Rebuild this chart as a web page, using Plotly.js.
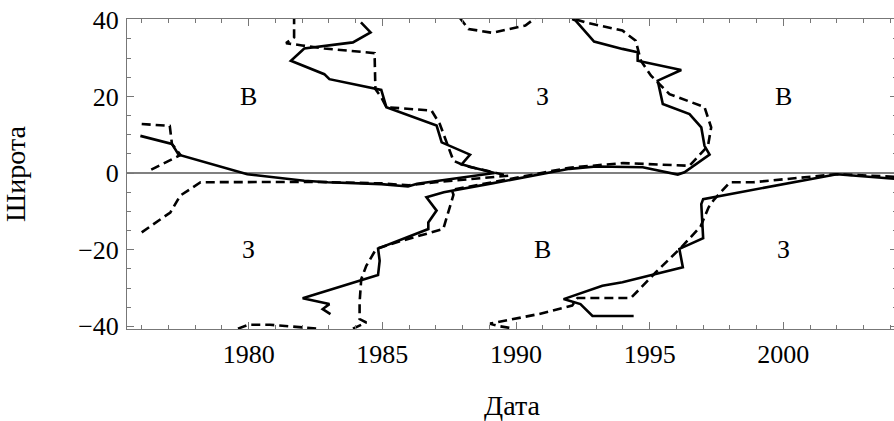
<!DOCTYPE html>
<html>
<head>
<meta charset="utf-8">
<script src="https://cdn.plot.ly/plotly-3.0.1.min.js"></script>
<style>
  html, body { margin: 0; padding: 0; background: #fff; overflow: hidden; }
  #chart { width: 897px; height: 421px; }
</style>
</head>
<body>
<div id="chart"></div>
<script>
// Neutral-line positions: date (years) and latitude (degrees).
// Solid lines
const solidA_date = [1975.95, 1977.13, 1977.38, 1979.95, 1982.08, 1982.96, 1984.96, 1985.96, 1986.3, 1989.2, 1988.35, 1987.97, 1988.28, 1987.22, 1987.03, 1985.15, 1984.96, 1984.59, 1983.02, 1982.83, 1981.58, 1982.08, 1983.9, 1984.56, 1984.2];
const solidA_lat  = [9.7, 7.6, 4.8, -0.3, -2.0, -2.4, -2.9, -3.5, -2.8, 0.0, 1.5, 2.3, 4.8, 8.0, 12.4, 17.2, 21.7, 22.2, 24.5, 25.8, 29.3, 32.5, 34.1, 36.7, 39.3];

const solidB_date = [1983.06, 1982.77, 1983.02, 1982.02, 1984.84, 1984.9, 1984.84, 1986.72, 1986.72, 1987.03, 1986.65, 1987.3, 1989.1, 1991.0, 1992.0, 1993.0, 1994.74, 1996.05, 1996.3, 1997.24, 1997.05, 1996.93, 1996.49, 1995.49, 1995.3, 1996.18, 1994.55, 1994.55, 1993.98, 1992.92, 1992.23, 1992.1];
const solidB_lat  = [-36.8, -35.5, -34.2, -32.7, -26.6, -22.9, -19.7, -14.6, -12.9, -9.8, -6.3, -5.0, -2.7, -0.3, 1.1, 1.7, 1.5, -0.4, 0.2, 4.8, 7.1, 11.9, 15.4, 18.0, 24.1, 26.9, 29.3, 31.5, 32.4, 34.3, 39.8, 40.2];

const solidC_date = [1994.4, 1992.86, 1992.41, 1991.78, 1993.23, 1993.98, 1996.24, 1996.11, 1997.0, 1996.93, 1997.0, 2002.0, 2004.3];
const solidC_lat  = [-37.3, -37.3, -34.2, -32.9, -29.4, -28.5, -24.6, -19.8, -17.0, -8.1, -6.8, -0.3, -1.6];

// Dashed lines
const dashA_date = [1976.0, 1977.05, 1977.13, 1977.45, 1976.25];
const dashA_lat  = [12.8, 12.3, 7.6, 4.7, 0.5];

const dashB_date = [1976.0, 1977.07, 1977.44, 1978.2, 1982.4, 1984.96, 1986.0, 1987.0, 1989.72, 1988.09, 1987.66, 1987.34, 1987.15, 1986.84, 1985.15, 1984.96, 1984.74, 1984.71, 1982.83, 1982.0, 1981.4, 1981.7, 1981.7];
const dashB_lat  = [-15.5, -10.3, -5.9, -2.4, -2.3, -2.7, -3.2, -2.4, -0.7, 1.9, 3.2, 9.3, 12.8, 16.3, 17.2, 19.8, 21.9, 31.3, 32.5, 33.3, 33.9, 35.4, 40.2];

const dashC_date = [1987.9, 1988.22, 1989.1, 1990.35, 1990.73];
const dashC_lat  = [40.5, 37.6, 36.6, 38.5, 40.5];

const dashD_date = [1979.6, 1980.0, 1980.8, 1982.0, 1982.6];
const dashD_lat  = [-40.6, -39.6, -39.6, -40.2, -40.6];

const dashE_date = [1983.9, 1984.4, 1984.15, 1984.15, 1984.21, 1984.4, 1984.77, 1985.71, 1987.28, 1987.66, 1987.6, 1989.1, 1991.0, 1992.0, 1994.0, 1996.0, 1996.49, 1997.18, 1997.3, 1997.05, 1995.74, 1995.05, 1994.67, 1994.48, 1993.98, 1992.6, 1992.1];
const dashE_lat  = [-40.6, -39.0, -38.1, -33.8, -27.7, -24.2, -19.8, -17.7, -14.6, -5.7, -4.4, -2.4, 0.0, 1.4, 2.6, 2.0, 1.9, 7.1, 11.9, 17.2, 20.6, 25.4, 29.3, 34.5, 37.2, 39.3, 40.4];

const dashF_date = [1989.75, 1989.4, 1989.03, 1990.85, 1992.1, 1992.3, 1994.3, 1995.23, 1996.18, 1996.9, 1997.2, 1997.4, 1998.0, 1998.87, 2002.0, 2004.3];
const dashF_lat  = [-40.4, -40.0, -39.3, -36.8, -34.6, -32.6, -32.6, -25.9, -19.4, -14.0, -9.0, -7.0, -2.4, -2.4, -0.3, -1.0];

// Sector labels (В = east, З = west)
const sectorText = ['В', 'З', 'В', 'З', 'В', 'З'];
const sectorDate = [1980, 1991, 2000, 1980, 1991, 2000];
const sectorLat  = [20, 20, 20, -20, -20, -20];

const serif = 'Liberation Serif, Times New Roman, serif';

function line(x, y, dashed) {
  return {
    type: 'scatter', mode: 'lines', x: x, y: y,
    line: { color: '#000', width: 2.6, dash: dashed ? '9px,5px' : 'solid' },
    hoverinfo: 'skip', showlegend: false
  };
}

const traces = [
  line(solidA_date, solidA_lat, false),
  line(solidB_date, solidB_lat, false),
  line(solidC_date, solidC_lat, false),
  line(dashA_date, dashA_lat, true),
  line(dashB_date, dashB_lat, true),
  line(dashC_date, dashC_lat, true),
  line(dashD_date, dashD_lat, true),
  line(dashE_date, dashE_lat, true),
  line(dashF_date, dashF_lat, true)
];

const annotations = sectorText.map((t, i) => ({
  x: sectorDate[i], y: sectorLat[i], xref: 'x', yref: 'y',
  text: t, showarrow: false,
  font: { family: serif, size: 26, color: '#000' }
}));

const axisCommon = {
  ticks: 'inside', ticklen: 7, tickwidth: 1, tickcolor: '#777',
  showline: true, linecolor: '#777', linewidth: 1, mirror: 'allticks',
  showgrid: false,
  tickfont: { family: serif, size: 26, color: '#000' }
};

const layout = {
  width: 897, height: 421,
  margin: { l: 127, r: 0, t: 19, b: 92 },
  paper_bgcolor: '#fff', plot_bgcolor: '#fff',
  showlegend: false,
  xaxis: Object.assign({}, axisCommon, {
    range: [1975.45, 2004.25],
    tick0: 1980, dtick: 5,
    zeroline: false,
    ticklabelstandoff: 2,
    minor: { tick0: 1980, dtick: 1, ticks: 'inside', ticklen: 4, tickcolor: '#777', showgrid: false },
    title: { text: 'Дата', font: { family: serif, size: 28, color: '#000' }, standoff: 30 }
  }),
  yaxis: Object.assign({}, axisCommon, {
    range: [-40.7, 40.2],
    tick0: 0, dtick: 20,
    zeroline: true, zerolinecolor: '#808080', zerolinewidth: 2,
    ticklabelstandoff: 2,
    minor: { tick0: 0, dtick: 5, ticks: 'inside', ticklen: 4, tickcolor: '#777', showgrid: false },
    title: { text: 'Широта', font: { family: serif, size: 28, color: '#000' }, standoff: 46 }
  }),
  annotations: annotations
};

Plotly.newPlot('chart', traces, layout, { displayModeBar: false, staticPlot: true });
</script>
</body>
</html>
